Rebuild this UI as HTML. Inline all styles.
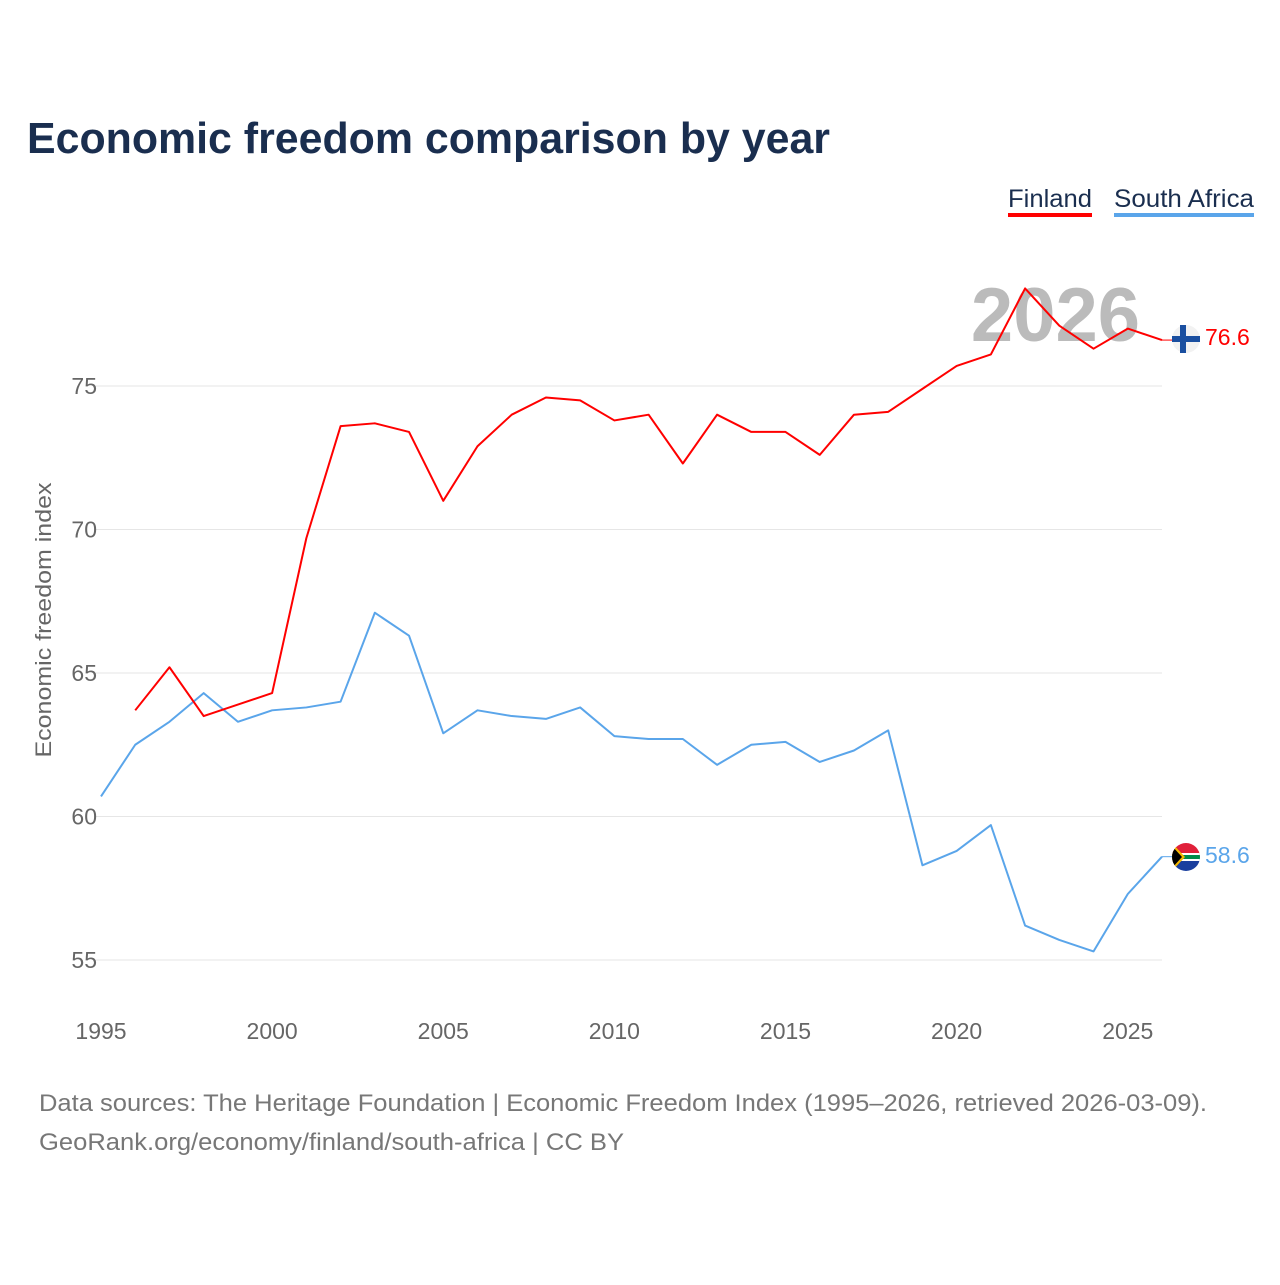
<!DOCTYPE html>
<html><head><meta charset="utf-8"><style>
body{margin:0;background:#fff;width:1280px;height:1280px;overflow:hidden;font-family:"Liberation Sans",sans-serif}
</style></head><body>
<svg width="1280" height="1280" xmlns="http://www.w3.org/2000/svg">
<text x="27" y="153" font-size="44" font-weight="bold" fill="#1a2e4f" textLength="803" lengthAdjust="spacingAndGlyphs">Economic freedom comparison by year</text>
<g>
<text x="1008" y="207" font-size="25" fill="#1a2e4f" textLength="84" lengthAdjust="spacingAndGlyphs">Finland</text>
<rect x="1008" y="213" width="84" height="4" fill="#ff0000"/>
<text x="1114" y="207" font-size="25" fill="#1a2e4f" textLength="140" lengthAdjust="spacingAndGlyphs">South Africa</text>
<rect x="1114" y="213" width="140" height="4" fill="#5aa5ea"/>
</g>
<text x="1140" y="341" font-size="76" font-weight="bold" fill="#bbbbbb" text-anchor="end">2026</text>
<g id="grid"></g><g id="xt"></g><g id="lines"></g>
<text transform="translate(51,620) rotate(-90)" font-size="22" fill="#666" text-anchor="middle" textLength="275" lengthAdjust="spacingAndGlyphs">Economic freedom index</text>
<g>
<circle cx="1186" cy="339" r="14" fill="#f2f2f2"/>
<rect x="1172" y="336" width="28" height="6" fill="#1a4fa0"/><rect x="1180" y="325" width="6" height="28" fill="#1a4fa0"/>
</g>
<g>
<clipPath id="c"><circle cx="1186" cy="857" r="14"/></clipPath>
<g clip-path="url(#c)">
<rect x="1172" y="843" width="28" height="14" fill="#e0203a"/><rect x="1172" y="857" width="28" height="14" fill="#1a3f9e"/>
<rect x="1172" y="853" width="28" height="8" fill="#fff"/><rect x="1172" y="855" width="28" height="4" fill="#008a4a"/>
<polygon points="1172,843 1185,857 1172,871" fill="#f5b800"/><polygon points="1172,846 1182,857 1172,868" fill="#000"/>
</g></g>
<text x="1205" y="345" font-size="23" fill="#ff0000">76.6</text>
<text x="1205" y="863" font-size="23" fill="#5aa5ea">58.6</text>
<text x="39" y="1111" font-size="24" fill="#777" textLength="1168" lengthAdjust="spacingAndGlyphs">Data sources: The Heritage Foundation | Economic Freedom Index (1995–2026, retrieved 2026-03-09).</text>
<text x="39" y="1150" font-size="24" fill="#777" textLength="585" lengthAdjust="spacingAndGlyphs">GeoRank.org/economy/finland/south-africa | CC BY</text>
</svg>
<script>
const finYears=[1996,1997,1998,1999,2000,2001,2002,2003,2004,2005,2006,2007,2008,2009,2010,2011,2012,2013,2014,2015,2016,2017,2018,2019,2020,2021,2022,2023,2024,2025,2026];
const finland=[63.7,65.2,63.5,63.9,64.3,69.7,73.6,73.7,73.4,71.0,72.9,74.0,74.6,74.5,73.8,74.0,72.3,74.0,73.4,73.4,72.6,74.0,74.1,74.9,75.7,76.1,78.4,77.1,76.3,77.0,76.6];
const zaYears=[1995,1996,1997,1998,1999,2000,2001,2002,2003,2004,2005,2006,2007,2008,2009,2010,2011,2012,2013,2014,2015,2016,2017,2018,2019,2020,2021,2022,2023,2024,2025,2026];
const southAfrica=[60.7,62.5,63.3,64.3,63.3,63.7,63.8,64.0,67.1,66.3,62.9,63.7,63.5,63.4,63.8,62.8,62.7,62.7,61.8,62.5,62.6,61.9,62.3,63.0,58.3,58.8,59.7,56.2,55.7,55.3,57.3,58.6];
const yTicks=[55,60,65,70,75];
const xTicks=[1995,2000,2005,2010,2015,2020,2025];
const NS="http://www.w3.org/2000/svg";
const xs=y=>101+(y-1995)*(1162-101)/31;
const ys=v=>960-(v-55)*(960-386)/20;
function mk(t,a,p){const e=document.createElementNS(NS,t);for(const k in a)e.setAttribute(k,a[k]);p.appendChild(e);return e;}
const grid=document.getElementById('grid');
yTicks.forEach(v=>{
const l=mk('line',{x1:95,x2:1162,y1:ys(v),y2:ys(v),stroke:'#e6e6e6','stroke-width':1},grid);


const t=mk('text',{x:97,y:ys(v)+8,'font-size':23,fill:'#666','text-anchor':'end'},grid);t.textContent=v;


});
const xt=document.getElementById('xt');
xTicks.forEach(v=>{
const t=mk('text',{x:xs(v),y:1039,'font-size':23,fill:'#666','text-anchor':'middle'},xt);t.textContent=v;


});
const lines=document.getElementById('lines');
function series(yrs,vals,col,name){
const p=mk('polyline',{points:yrs.map((y,i)=>xs(y)+','+ys(vals[i])).join(' '),fill:'none',stroke:col,'stroke-width':2,'stroke-linejoin':'round'},lines);


const last=vals.length-1;
const c=mk('line',{x1:xs(yrs[last]),x2:1172,y1:ys(vals[last]),y2:ys(vals[last]),stroke:col,'stroke-width':1},lines);


}
series(zaYears,southAfrica,'#5aa5ea','south-africa-line');
series(finYears,finland,'#ff0000','finland-line');
</script>
</body></html>
